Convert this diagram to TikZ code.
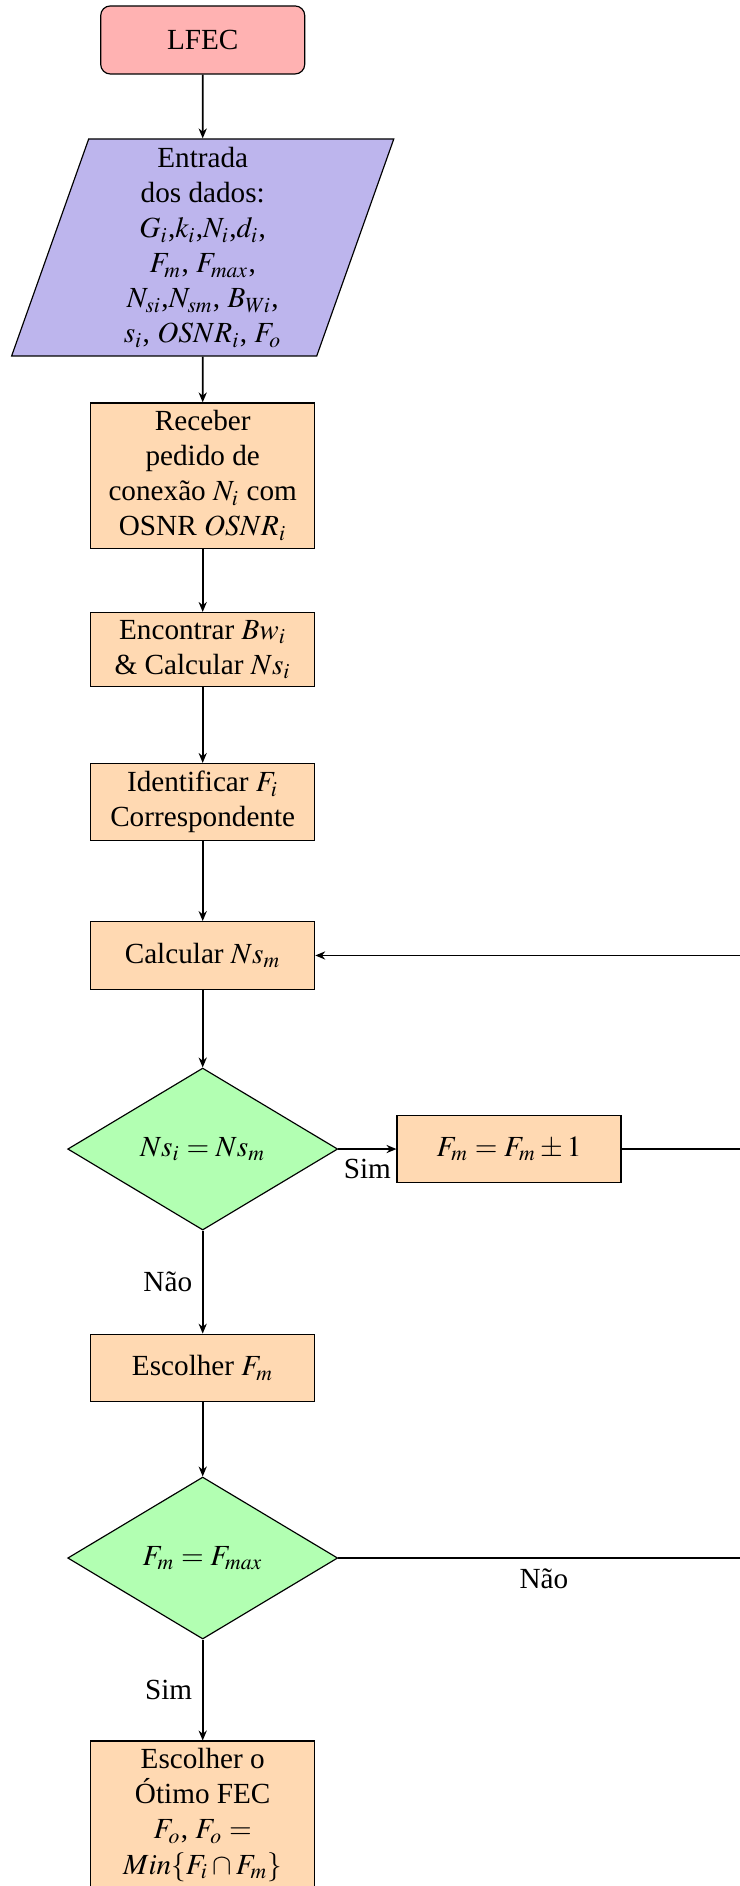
\documentclass[tikz,border=0pt]{standalone}
\usepackage{mathptmx}
\usepackage[no-math]{fontspec}
\setmainfont{Liberation Serif}
\usepackage{xcolor}
\usepackage{tikz}
\usetikzlibrary{positioning, arrows.meta, shapes.geometric}

\definecolor{iofill}{RGB}{189,181,237}

\begin{document}
\begin{tikzpicture}[
    startnode/.style={rectangle, rounded corners=3.3pt, draw, fill=red!30, minimum width=2.456cm, minimum height=0.819cm},
    ionode/.style={trapezium, trapezium left angle=70, trapezium right angle=110, trapezium stretches body, draw, fill=iofill, minimum width=4.6cm, minimum height=2.612cm, inner sep=2pt, align=center},
    procnode/.style={rectangle, draw, fill=orange!30, minimum width=2.696cm, minimum height=0.815cm, inner ysep=2.6pt, align=center},
    decnode/.style={diamond, draw, fill=green!30, minimum width=3.25cm, minimum height=1.95cm, aspect=1.67, inner sep=1pt},
    edge/.style={-{Stealth[length=3.4pt, width=2.8pt]}, semithick},
    plainedge/.style={semithick}
]

\useasboundingbox (0,0) rectangle (8.907,-22.702);
\clip (0,0) rectangle (8.907,-22.702);

% Coluna principal
\node[startnode] (lfec) at (2.44,-0.481) {LFEC};
\node[ionode] (entrada) at (2.44,-2.979) {Entrada\\ dos dados:\\ $G_i$,$k_i$,$N_i$,$d_i$,\\ $F_m$, $F_{max}$,\\ $N_{si}$,$N_{sm}$, $B_{Wi}$,\\ $s_i$, $OSNR_i$, $F_o$};
\node[procnode] (receber) at (2.44,-5.724) {Receber\\ pedido de\\ conexão $N_i$ com\\ OSNR $OSNR_i$};
\node[procnode] (encontrar) at (2.44,-7.818) {Encontrar $Bw_i$\\ \& Calcular $Ns_i$};
\node[procnode] (identificar) at (2.44,-9.654) {Identificar $F_i$\\ Correspondente};
\node[procnode] (calcnsm) at (2.44,-11.501) {Calcular $Ns_m$};
\node[decnode] (testns) at (2.44,-13.831) {$Ns_i = Ns_m$};
\node[procnode] (ajustefm) at (6.127,-13.831) {$F_m = F_m \pm 1$};
\node[procnode] (escolhefm) at (2.44,-16.467) {Escolher $F_m$};
\node[decnode] (testfmax) at (2.44,-18.754) {$F_m = F_{max}$};
\node[procnode] (otimo) at (2.44,-21.847) {Escolher o\\ Ótimo FEC\\ $F_o$, $F_o =$\\ $Min\{F_i \cap F_m\}$};

% Retorno pela direita
\coordinate (volta) at (9.02,-11.501);

% Setas
\draw[edge] (lfec) -- (entrada);
\draw[edge] (entrada) -- (receber);
\draw[edge] (receber) -- (encontrar);
\draw[edge] (encontrar) -- (identificar);
\draw[edge] (identificar) -- (calcnsm);
\draw[edge] (calcnsm) -- (testns);
\draw[edge] (testns) -- node[below] {Sim} (ajustefm);
\draw[edge] (testns) -- node[left] {Não} (escolhefm);
\draw[edge] (escolhefm) -- (testfmax);
\draw[edge] (testfmax) -- node[left] {Sim} (otimo);
\draw[edge] (ajustefm.east) -| (volta) -- (calcnsm.east);
\draw[plainedge] (testfmax.east) -- node[below] {Não} (testfmax.east -| volta) -- (volta);

\end{tikzpicture}
\end{document}
